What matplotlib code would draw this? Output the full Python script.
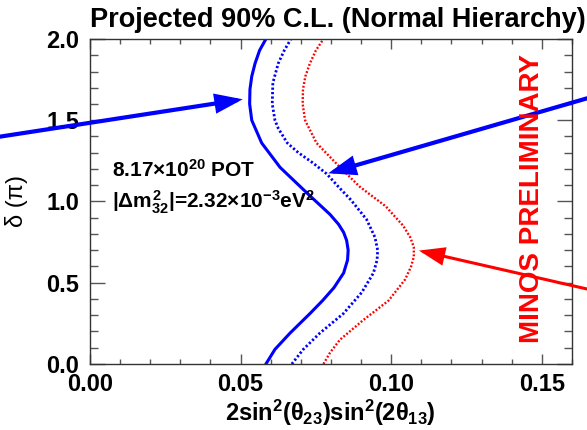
import matplotlib
matplotlib.use("Agg")
import matplotlib.pyplot as plt
from matplotlib.ticker import MultipleLocator, FormatStrFormatter

plt.rcParams['font.family'] = ['Liberation Sans', 'DejaVu Sans']
plt.rcParams['mathtext.fontset'] = 'custom'
plt.rcParams['mathtext.rm'] = 'Liberation Sans:bold'
plt.rcParams['mathtext.it'] = 'Liberation Sans:bold'
plt.rcParams['mathtext.bf'] = 'Liberation Sans:bold'

# 90% C.L. contours: delta (in units of pi) vs 2 sin^2(theta23) sin^2(2 theta13)
solid_delta = [0.00, 0.09, 0.19, 0.31, 0.39, 0.47, 0.56, 0.64, 0.70, 0.76, 0.81, 0.86,
               0.92, 0.97, 1.03, 1.09, 1.21, 1.36, 1.50, 1.60, 1.69, 1.77, 1.85, 1.93, 2.00]
solid_x = [0.0584, 0.0614, 0.0664, 0.0730, 0.0772, 0.0810, 0.0842, 0.0855, 0.0857, 0.0852,
           0.0842, 0.0825, 0.0797, 0.0768, 0.0733, 0.0699, 0.0631, 0.0570, 0.0537, 0.0530,
           0.0531, 0.0537, 0.0548, 0.0563, 0.0584]

blue_dot_delta = [0.00, 0.09, 0.19, 0.31, 0.44, 0.56, 0.64, 0.70, 0.78, 0.89, 1.01, 1.09,
                  1.17, 1.24, 1.30, 1.36, 1.45, 1.50, 1.60, 1.73, 1.85, 1.93, 2.00]
blue_dot_x = [0.0670, 0.0708, 0.0763, 0.0841, 0.0902, 0.0941, 0.0953, 0.0955, 0.0946,
              0.0918, 0.0866, 0.0825, 0.0786, 0.0738, 0.0692, 0.0655, 0.0625, 0.0614,
              0.0605, 0.0607, 0.0625, 0.0645, 0.0667]

red_dot_delta = [0.00, 0.07, 0.15, 0.27, 0.39, 0.52, 0.60, 0.66, 0.72, 0.78, 0.85, 0.97,
                 1.09, 1.21, 1.36, 1.50, 1.60, 1.69, 1.77, 1.85, 1.93, 2.00]
red_dot_x = [0.0775, 0.0797, 0.0830, 0.0907, 0.0991, 0.1046, 0.1066, 0.1075, 0.1075,
             0.1063, 0.1040, 0.0982, 0.0896, 0.0830, 0.0752, 0.0714, 0.0706, 0.0707,
             0.0715, 0.0730, 0.0750, 0.0775]

# arrows: (tail, head) in data coordinates
arrow_blue_left = ((-0.0299, 1.399), (0.0507, 1.629))
arrow_blue_right = ((0.1650, 1.635), (0.0791, 1.1735))
arrow_red_right = ((0.1650, 0.4615), (0.1092, 0.698))

x_ticks = [0.00, 0.05, 0.10, 0.15]
y_ticks = [0.0, 0.5, 1.0, 1.5, 2.0]

fig = plt.figure(figsize=(5.87, 4.30), dpi=100)
ax = fig.add_axes([0.1533, 0.1535, 0.8211, 0.7558])

ax.plot(solid_x, solid_delta, color='#0000ff', lw=2.2, solid_joinstyle='round')
ax.plot(blue_dot_x, blue_dot_delta, color='#0000ff', lw=2.0, linestyle=(0, (0.8, 0.8)))
ax.plot(red_dot_x, red_dot_delta, color='#ff0000', lw=1.7, linestyle=(0, (0.8, 0.8)))

ax.set_xlim(0, 0.16)
ax.set_ylim(0, 2.0)
ax.set_xticks(x_ticks)
ax.set_yticks(y_ticks)
ax.xaxis.set_minor_locator(MultipleLocator(0.01))
ax.yaxis.set_minor_locator(MultipleLocator(0.1))
ax.xaxis.set_major_formatter(FormatStrFormatter('%.2f'))
ax.yaxis.set_major_formatter(FormatStrFormatter('%.1f'))

frame_col = '#333333'
for s in ax.spines.values():
    s.set_color(frame_col)
    s.set_linewidth(1.0)
ax.tick_params(which='both', direction='in', top=True, right=True, color='#555555', width=1.0)
ax.tick_params(axis='x', which='major', length=7.2, pad=6.5, labelsize=17)
ax.tick_params(axis='x', which='minor', length=3.6)
ax.tick_params(axis='y', which='major', length=10.8, pad=7.7, labelsize=17)
ax.tick_params(axis='y', which='minor', length=5.8)
for lab in ax.get_xticklabels() + ax.get_yticklabels():
    lab.set_fontweight('bold')

for (tail, head), col, lw in [(arrow_blue_left, '#0000ff', 3.0),
                              (arrow_blue_right, '#0000ff', 3.0),
                              (arrow_red_right, '#ff0000', 2.2)]:
    ax.annotate('', xy=head, xytext=tail, xycoords='data', textcoords='data',
                annotation_clip=False,
                arrowprops=dict(arrowstyle='-|>,head_length=1.45,head_width=0.52',
                                mutation_scale=10, lw=lw, color=col,
                                shrinkA=0, shrinkB=0, joinstyle='miter'))

ax.text(0.0072, 1.153, '8.17×10$^{20}$ POT', fontsize=15, fontweight='bold',
        ha='left', va='baseline')
ax.text(0.0072, 0.958, '|Δ$m^{2}_{32}$|=2.32×10$^{-3}$eV$^{2}$', fontsize=15,
        fontweight='bold', ha='left', va='baseline')

fig.text(0.576, 0.953, 'Projected 90% C.L. (Normal Hierarchy)', fontsize=19.5,
         fontweight='bold', ha='center', va='center')
fig.text(0.562, 0.040, '2sin$^{2}$($\\theta_{23}$)sin$^{2}$(2$\\theta_{13}$)', fontsize=17,
         fontweight='bold', ha='center', va='center')
fig.text(0.028, 0.533, 'δ (π)', fontsize=17, rotation=90, ha='center', va='center')
fig.text(0.9058, 0.5395, 'MINOS PRELIMINARY', fontsize=20, fontweight='bold',
         color='#ff0000', rotation=90, ha='center', va='center')

fig.savefig('out.png', dpi=100)
